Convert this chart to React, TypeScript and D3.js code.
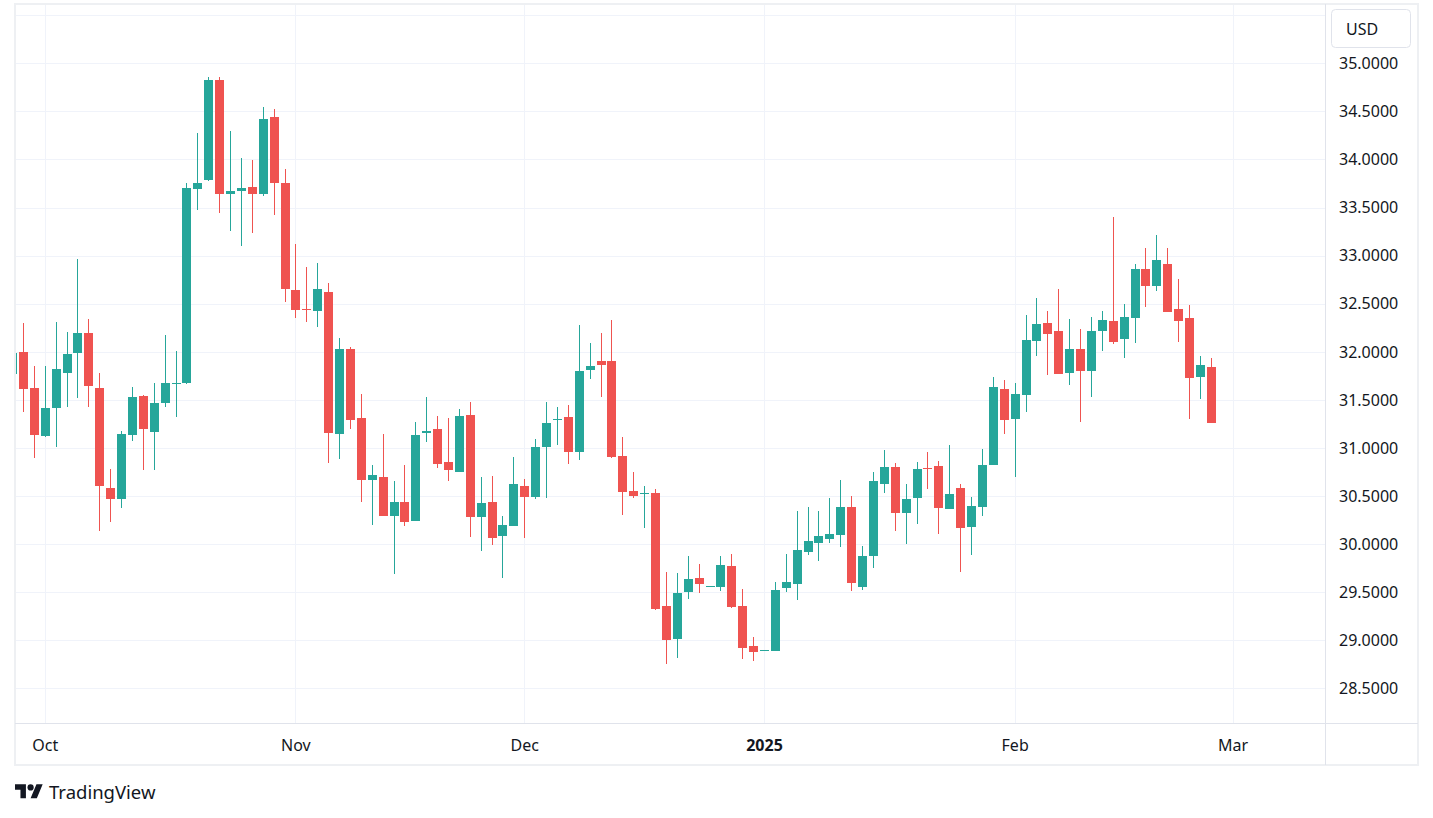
import React from "react";
import * as d3 from "d3";

// ---- Data (daily candles, weekdays from 2024-09-26 to 2025-02-27) ----
const startDate = "2024-09-26";
const endDate = "2025-02-27";

const openP = [
  31.77, 32.0, 31.62, 31.12, 31.42, 31.78, 31.99, 32.19, 31.62, 30.58,
  30.47, 31.13, 31.54, 31.17, 31.47, 31.67, 31.67, 33.69, 33.79, 34.83,
  33.64, 33.67, 33.71, 33.64, 34.44, 33.75, 32.64, 32.44, 32.42, 32.62,
  31.145, 32.025, 31.308, 30.666, 30.694, 30.292, 30.434, 30.24, 31.155, 31.193,
  30.85, 30.75, 31.339, 30.282, 30.434, 30.084, 30.188, 30.6, 30.49, 31.01,
  31.29, 31.318, 30.958, 31.81, 31.9, 31.9, 30.912, 30.549, 30.52, 30.528,
  29.353, 29.013, 29.502, 29.644, 29.555, 29.554, 29.769, 29.353, 28.94, 28.89,
  28.884, 29.543, 29.585, 29.918, 30.011, 30.053, 30.094, 30.382, 29.553, 29.876,
  30.625, 30.798, 30.323, 30.479, 30.788, 30.808, 30.365, 30.58, 30.178, 30.386,
  30.822, 31.609, 31.3, 31.55, 32.112, 32.296, 32.213, 31.779, 32.025, 31.8,
  32.216, 32.317, 32.133, 32.351, 32.857, 32.684, 32.909, 32.441, 32.348, 31.737,
  31.838,
];
const highP = [
  32.02, 32.3, 31.85, 31.85, 32.31, 32.21, 32.96, 32.34, 31.78, 30.78,
  31.18, 31.63, 31.55, 31.68, 32.17, 32.01, 33.75, 34.27, 34.86, 34.86,
  34.3, 34.01, 33.99, 34.55, 34.52, 33.9, 33.12, 32.88, 32.92, 32.72,
  32.147, 32.053, 31.557, 30.819, 31.14, 30.656, 30.819, 31.266, 31.526, 31.329,
  31.308, 31.401, 31.474, 30.698, 30.708, 30.288, 30.902, 30.673, 31.089, 31.474,
  31.422, 31.443, 32.275, 32.088, 32.192, 32.327, 31.11, 30.746, 30.6, 30.569,
  29.706, 29.696, 29.873, 29.79, 29.565, 29.873, 29.893, 29.53, 29.034, 28.9,
  29.602, 29.893, 30.341, 30.382, 30.341, 30.476, 30.663, 30.497, 29.977, 30.746,
  30.975, 30.84, 30.621, 30.85, 30.954, 30.861, 31.027, 30.621, 30.49, 30.985,
  31.734, 31.703, 31.672, 32.379, 32.556, 32.421, 32.65, 32.337, 32.233, 32.358,
  32.421, 33.398, 32.493, 32.909, 33.076, 33.211, 33.076, 32.753, 32.486, 31.953,
  31.932,
];
const lowP = [
  31.74, 31.37, 30.9, 31.11, 31.01, 31.43, 31.52, 31.43, 30.14, 30.23,
  30.37, 31.07, 30.77, 30.77, 31.43, 31.32, 31.66, 33.47, 33.78, 33.44,
  33.26, 33.1, 33.24, 33.62, 33.42, 32.52, 32.35, 32.31, 32.26, 30.84,
  30.885, 31.197, 30.437, 30.198, 30.29, 29.692, 30.188, 30.24, 31.062, 30.791,
  30.656, 30.75, 30.074, 29.93, 29.987, 29.647, 30.188, 30.063, 30.469, 30.479,
  31.027, 30.833, 30.874, 31.717, 31.53, 30.895, 30.302, 30.479, 30.167, 29.314,
  28.753, 28.815, 29.429, 29.491, 29.55, 29.512, 29.335, 28.805, 28.784, 28.885,
  28.884, 29.502, 29.418, 29.886, 29.824, 30.011, 29.97, 29.512, 29.522, 29.751,
  30.531, 30.136, 30.001, 30.209, 30.573, 30.105, 30.365, 29.71, 29.886, 30.292,
  30.822, 31.145, 30.698, 31.374, 31.956, 31.758, 31.769, 31.654, 31.27, 31.53,
  32.008, 32.081, 31.935, 32.091, 32.466, 32.632, 32.414, 32.102, 31.301, 31.509,
  31.259,
];
const closeP = [
  31.99, 31.61, 31.13, 31.41, 31.82, 31.98, 32.19, 31.64, 30.6, 30.47,
  31.14, 31.53, 31.2, 31.47, 31.67, 31.68, 33.7, 33.75, 34.83, 33.64,
  33.67, 33.7, 33.64, 34.42, 33.75, 32.65, 32.43, 32.43, 32.65, 31.155,
  32.025, 31.29, 30.666, 30.715, 30.292, 30.434, 30.23, 31.131, 31.18, 30.833,
  30.767, 31.329, 30.282, 30.424, 30.063, 30.195, 30.621, 30.49, 31.006, 31.256,
  31.3, 30.958, 31.797, 31.848, 31.862, 30.906, 30.542, 30.5, 30.528, 29.321,
  29.002, 29.488, 29.633, 29.585, 29.56, 29.779, 29.346, 28.919, 28.878, 28.895,
  29.519, 29.602, 29.935, 30.029, 30.08, 30.101, 30.382, 29.595, 29.872, 30.653,
  30.798, 30.323, 30.465, 30.777, 30.78, 30.375, 30.517, 30.167, 30.393, 30.819,
  31.63, 31.29, 31.557, 32.119, 32.285, 32.185, 31.769, 32.025, 31.8, 32.213,
  32.327, 32.102, 32.358, 32.857, 32.684, 32.951, 32.414, 32.32, 31.727, 31.859,
  31.259,
];

const monthTicks = ["2024-10-01", "2024-11-01", "2024-12-02", "2025-01-01", "2025-02-03", "2025-03-03"];
const monthLabels = ["Oct", "Nov", "Dec", "2025", "Feb", "Mar"];
const priceTicks = [28.5, 29, 29.5, 30, 30.5, 31, 31.5, 32, 32.5, 33, 33.5, 34, 34.5, 35, 35.5];
const currencyLabel = "USD";

const UP = "#26a69a";
const DOWN = "#ef5350";
const FONT = "'Noto Sans', Roboto, sans-serif";

const parse = d3.utcParse("%Y-%m-%d");
const fmtKey = d3.utcFormat("%Y-%m-%d");
// weekday trading calendar (extends a few days past the data for the Mar tick)
const calendar = d3
  .utcDay.range(parse(startDate)!, d3.utcDay.offset(parse(endDate)!, 10))
  .filter((d) => d.getUTCDay() !== 0 && d.getUTCDay() !== 6)
  .map(fmtKey);

export default function App() {
  const W = 1433;
  const H = 818;
  const paneL = 16;
  const paneR = 1325;
  const paneT = 5;
  const paneB = 723;

  const x = d3.scaleLinear().domain([0, 110]).range([12.6, 1211.3]);
  const y = d3.scaleLinear().domain([28.5, 35]).range([688.3, 63.3]);
  const bodyW = 9;

  const candles = closeP.map((c, i) => ({
    i,
    o: openP[i],
    h: highP[i],
    l: lowP[i],
    c,
  }));

  return (
    <svg
      width={W}
      height={H}
      style={{ position: "absolute", left: 0, top: 0, background: "#fff" }}
      fontFamily={FONT}
    >
      <defs>
        <clipPath id="pane">
          <rect x={paneL} y={paneT} width={paneR - paneL} height={paneB - paneT} />
        </clipPath>
      </defs>
      <rect x={0} y={0} width={W} height={H} fill="#fff" />

      {/* grid */}
      <g clipPath="url(#pane)">
        {priceTicks.map((p) => (
          <line
            key={"h" + p}
            x1={paneL}
            x2={paneR}
            y1={Math.round(y(p)) + 0.5}
            y2={Math.round(y(p)) + 0.5}
            stroke="#f0f3fa"
            strokeWidth={1}
          />
        ))}
        {monthTicks.map((m) => {
          const xi = Math.floor(x(calendar.indexOf(m))) + 0.5;
          return (
            <line key={"v" + m} x1={xi} x2={xi} y1={paneT} y2={paneB} stroke="#f0f3fa" strokeWidth={1} />
          );
        })}
      </g>

      {/* candles */}
      <g clipPath="url(#pane)" shapeRendering="crispEdges">
        {candles.map((d) => {
          const col = d.c >= d.o ? UP : DOWN;
          const px = Math.floor(x(d.i));
          const top = y(Math.max(d.o, d.c));
          const bot = y(Math.min(d.o, d.c));
          const bh = Math.max(1, bot - top);
          return (
            <g key={d.i}>
              <rect x={px} y={y(d.h)} width={1} height={Math.max(1, y(d.l) - y(d.h))} fill={col} />
              <rect x={px - (bodyW - 1) / 2} y={top} width={bodyW} height={bh} fill={col} />
            </g>
          );
        })}
      </g>

      {/* frame and separators */}
      <rect x={15} y={4} width={1403} height={761} fill="none" stroke="#eef0f3" strokeWidth={2} />
      <line x1={paneR + 0.5} x2={paneR + 0.5} y1={4} y2={765} stroke="#e0e3eb" strokeWidth={1} />
      <line x1={15} x2={1418} y1={paneB + 0.5} y2={paneB + 0.5} stroke="#e0e3eb" strokeWidth={1} />

      {/* price axis labels */}
      {priceTicks
        .filter((p) => p <= 35)
        .map((p) => (
          <text key={"pl" + p} x={1339} y={y(p)} dy="0.36em" fontSize={16} fill="#131722">
            {p.toFixed(4)}
          </text>
        ))}

      {/* currency box */}
      <rect x={1331.5} y={9.5} width={79} height={38} rx={4} fill="#fff" stroke="#e0e3eb" />
      <text x={1346} y={29.5} dy="0.36em" fontSize={16} fill="#131722">
        {currencyLabel}
      </text>

      {/* time axis labels */}
      {monthTicks.map((m, k) => (
        <text
          key={"tl" + m}
          x={x(calendar.indexOf(m))}
          y={745}
          dy="0.36em"
          textAnchor="middle"
          fontSize={16}
          fontWeight={monthLabels[k] === "2025" ? 700 : 400}
          fill="#131722"
        >
          {monthLabels[k]}
        </text>
      ))}

      {/* TradingView logo */}
      <g transform="translate(15, 781.2) scale(0.78)" fill="#131722">
        <path d="M14 22H7V11H0V4h14v18zM28 22h-8l7.5-18h8L28 22z" />
        <circle cx={20} cy={8} r={4} />
      </g>
      <text x={49} y={798.5} fontSize={18.5} fontWeight={400} fill="#131722">
        TradingView
      </text>
    </svg>
  );
}
